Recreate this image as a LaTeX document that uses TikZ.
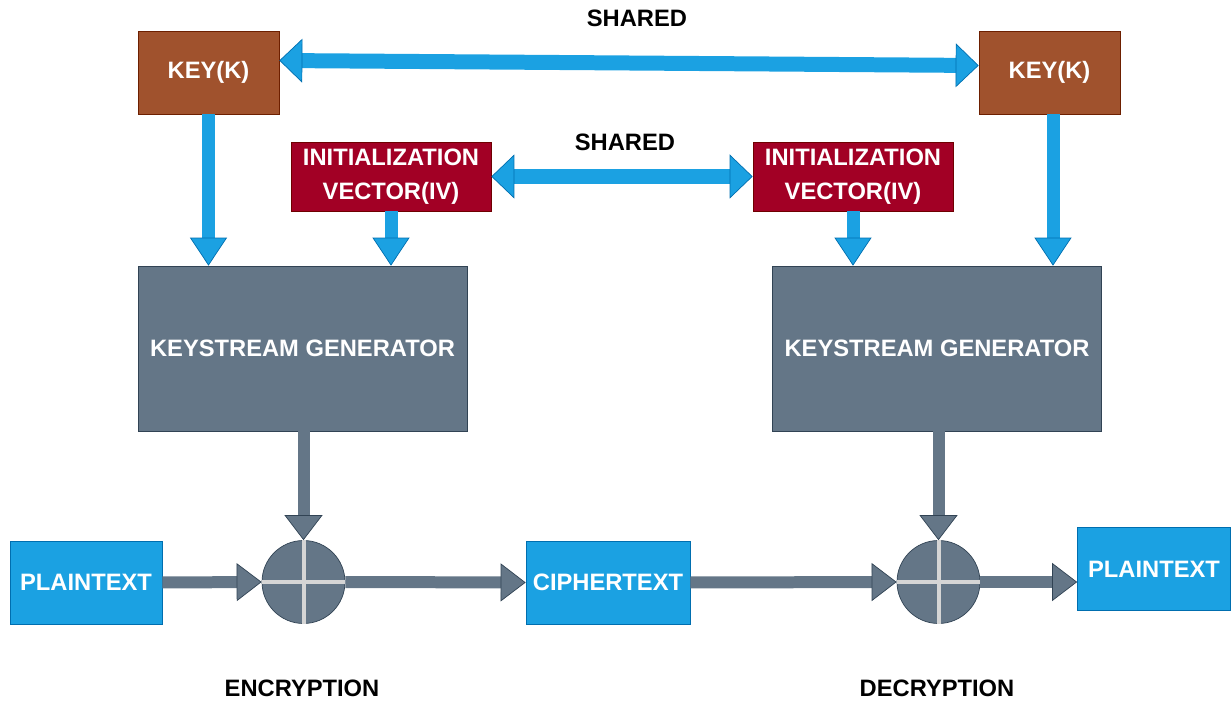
\documentclass[tikz,border=0pt]{standalone}
\usepackage{fontspec}
\setmainfont{Liberation Sans}
\usetikzlibrary{arrows.meta}
\definecolor{blueC}{HTML}{1BA1E2}
\definecolor{blueE}{HTML}{006EAF}
\definecolor{brownC}{HTML}{A0522D}
\definecolor{brownE}{HTML}{6D1F00}
\definecolor{redC}{HTML}{A20025}
\definecolor{redE}{HTML}{6F0000}
\definecolor{grayC}{HTML}{647687}
\definecolor{grayE}{HTML}{314354}
\definecolor{crossC}{HTML}{D5D5D5}

\begin{document}
\begin{tikzpicture}[x=0.02cm, y=-0.02cm,
        font=\fontsize{13.5}{19.5}\selectfont\bfseries,
        box/.style={draw, thin, text=white, align=center, inner sep=0pt},
        keybox/.style={box, fill=brownC, draw=brownE, minimum width=2.82cm, minimum height=1.66cm},
        ivbox/.style={box, fill=redC, draw=redE, minimum width=4cm, minimum height=1.38cm},
        genbox/.style={box, fill=grayC, draw=grayE, minimum width=6.58cm, minimum height=3.3cm},
        txtbox/.style={box, fill=blueC, draw=blueE, minimum height=1.66cm},
        xor/.style={circle, fill=grayC, draw=grayE, thin, minimum size=1.66cm, inner sep=0pt},
        crossline/.style={crossC, line width=0.08cm},
        bluearrow/.style={blueC, line width=0.26cm, -{Triangle[length=0.56cm, width=0.74cm, line width=0.4pt, fill=blueC, color=blueE]}},
        sharedarrow/.style={blueC, line width=0.3cm, {Triangle[length=0.46cm, width=0.88cm, line width=0.4pt, fill=blueC, color=blueE]}-{Triangle[length=0.46cm, width=0.88cm, line width=0.4pt, fill=blueC, color=blueE]}},
        grayarrow/.style={grayC, line width=0.24cm, -{Triangle[length=0.5cm, width=0.76cm, line width=0.4pt, fill=grayC, color=grayE]}}]
        \useasboundingbox (0, 0) rectangle (1231, 702);

        \node[keybox] (keyL) at (208.5, 72.5) {KEY(K)};
        \node[keybox] (keyR) at (1049.5, 72.5) {KEY(K)};
        \node (shareTop) at (637, 18) {SHARED};
        \draw[sharedarrow] ([yshift=0.24cm]keyL.east) -- ([yshift=0.14cm]keyR.west);

        \node[ivbox] (ivL) at (391, 176.5) {INITIALIZATION\\VECTOR(IV)};
        \node[ivbox] (ivR) at (853, 176.5) {INITIALIZATION\\VECTOR(IV)};
        \node (shareMid) at (625, 142) {SHARED};
        \draw[sharedarrow] (ivL.east) -- (ivR.west);

        \node[genbox] (ksgL) at (302.5, 348.5) {KEYSTREAM GENERATOR};
        \node[genbox] (ksgR) at (937, 348.5) {KEYSTREAM GENERATOR};
        \draw[bluearrow] (keyL.south) -- (keyL.south |- ksgL.north);
        \draw[bluearrow] (ivL.south) -- (ivL.south |- ksgL.north);
        \draw[bluearrow] (ivR.south) -- (ivR.south |- ksgR.north);
        \draw[bluearrow] ([xshift=0.07cm]keyR.south) -- ([xshift=0.07cm]keyR.south |- ksgR.north);

        \node[txtbox, minimum width=3.04cm] (ptL) at (86, 582.5) {PLAINTEXT};
        \node[xor] (xorL) at (303.5, 582) {};
        \node[txtbox, minimum width=3.28cm] (ct) at (608, 582.5) {CIPHERTEXT};
        \node[xor] (xorR) at (938.5, 582) {};
        \node[txtbox, minimum width=3.06cm] (ptR) at (1154, 569) {PLAINTEXT};
        \draw[crossline] (xorL.north) -- (xorL.south) (xorL.west) -- (xorL.east);
        \draw[crossline] (xorR.north) -- (xorR.south) (xorR.west) -- (xorR.east);

        \draw[grayarrow] (xorL.north |- ksgL.south) -- (xorL.north);
        \draw[grayarrow] (xorR.north |- ksgR.south) -- (xorR.north);
        \draw[grayarrow] (ptL.east) -- (xorL.west);
        \draw[grayarrow] (xorL.east) -- (ct.west);
        \draw[grayarrow] (ct.east) -- (xorR.west);
        \draw[grayarrow] (xorR.east) -- (xorR.east -| ptR.west);

        \node (enc) at (302, 688) {ENCRYPTION};
        \node (dec) at (937, 688) {DECRYPTION};
      \end{tikzpicture}
\end{document}
